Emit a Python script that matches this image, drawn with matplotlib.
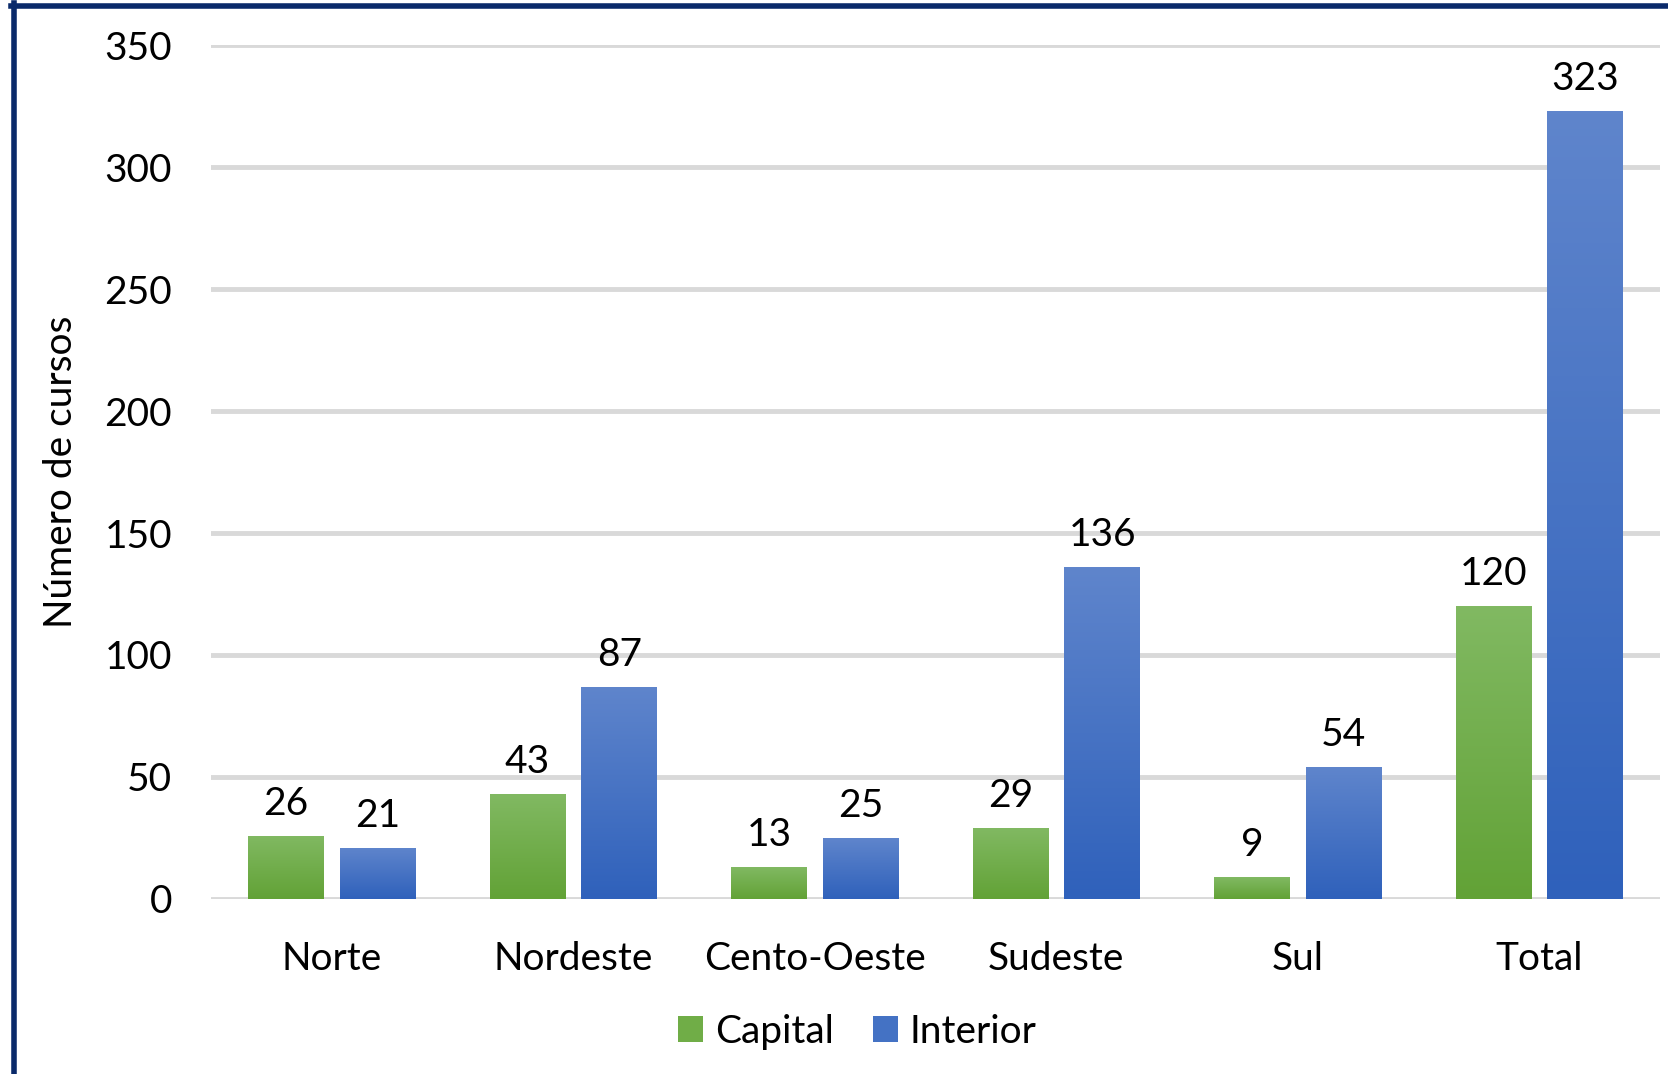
import numpy as np
from matplotlib import pyplot as plt
from matplotlib.colors import LinearSegmentedColormap
from matplotlib.lines import Line2D
from matplotlib.patches import Patch

regions = ['Norte', 'Nordeste', 'Cento-Oeste', 'Sudeste', 'Sul', 'Total']
capital = [26, 43, 13, 29, 9, 120]
interior = [21, 87, 25, 136, 54, 323]

plt.rcParams['font.family'] = ['Lato', 'DejaVu Sans']

fig = plt.figure(figsize=(16.68, 10.74), dpi=100)
ax = fig.add_axes([0.1265, 0.163, 0.8687, 0.795])

x = np.arange(len(regions))
w = 0.313
off = 0.19

green = LinearSegmentedColormap.from_list('g', ['#62a236', '#81b962'])
blue = LinearSegmentedColormap.from_list('b', ['#2f61bb', '#5f85cc'])

def gradient_bars(bars, cmap):
    grad = np.linspace(0, 1, 256).reshape(-1, 1)
    for b in bars:
        x0, y0 = b.get_x(), b.get_y()
        im = ax.imshow(grad, cmap=cmap, origin='lower', aspect='auto',
                       extent=[x0, x0 + b.get_width(), y0, y0 + b.get_height()],
                       zorder=3)
        im.set_clip_path(b)

b1 = ax.bar(x - off, capital, w, color='#70ad47', zorder=3)
b2 = ax.bar(x + off, interior, w, color='#4472c4', zorder=3)
gradient_bars(b1, green)
gradient_bars(b2, blue)

for bars, vals in ((b1, capital), (b2, interior)):
    for b, v in zip(bars, vals):
        ax.annotate(str(v), (b.get_x() + b.get_width() / 2, v),
                    xytext=(0, 10), textcoords='offset points',
                    ha='center', va='bottom', fontsize=28)

ax.set_xlim(-0.5, 5.5)
ax.set_ylim(0, 350)
ax.set_yticks(range(0, 351, 50))
ax.set_xticks(x)
ax.set_xticklabels(regions)
ax.grid(axis='y', color='#d9d9d9', linewidth=3.5, zorder=0)
ax.set_axisbelow(True)
for s in ax.spines.values():
    s.set_visible(False)
ax.tick_params(axis='both', length=0, labelsize=28)
ax.tick_params(axis='y', pad=28)
ax.tick_params(axis='x', pad=30)
ax.set_ylabel('Número de cursos', fontsize=28, labelpad=18)

handles = [Patch(facecolor='#70ad47'), Patch(facecolor='#4472c4')]
fig.legend(handles, ['Capital', 'Interior'], loc='center',
           bbox_to_anchor=(0.514, 0.039), ncol=2, frameon=False,
           fontsize=28, handlelength=0.65, handleheight=0.65,
           handletextpad=0.3, columnspacing=1.0)

# outer border (left and top edges)
navy = '#0a2a6a'
fig.add_artist(Line2D([13.5 / 1668, 13.5 / 1668], [0, 1 - 3 / 1074],
                      transform=fig.transFigure, color=navy, linewidth=4))
fig.add_artist(Line2D([11 / 1668, 1], [1 - 5.5 / 1074, 1 - 5.5 / 1074],
                      transform=fig.transFigure, color=navy, linewidth=4))

fig.savefig('out.png', dpi=100)
